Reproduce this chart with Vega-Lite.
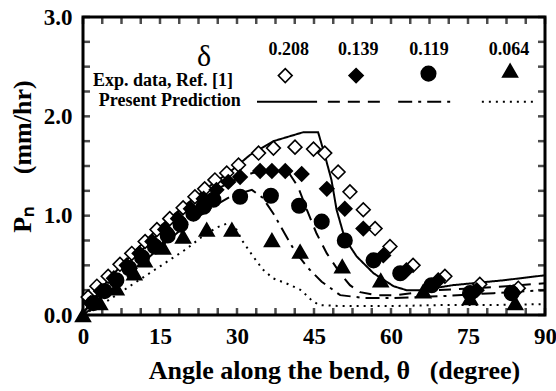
{
  "$schema": "https://vega.github.io/schema/vega-lite/v6.json",
  "width": 462,
  "height": 298,
  "autosize": "none",
  "padding": {"left": 83, "top": 17, "right": 11, "bottom": 76},
  "config": {
    "view": {"stroke": "black", "strokeWidth": 3},
    "font": "Liberation Serif",
    "axis": {
      "labelFont": "Liberation Serif", "labelFontWeight": "bold", "labelFontSize": 23, "labelColor": "black",
      "titleFont": "Liberation Serif", "titleFontWeight": "bold", "titleFontSize": 26, "titleColor": "black",
      "domain": false, "grid": false, "ticks": false
    }
  },
  "datasets": {
    "tickX": [
      {"v": 0}, {"v": 3.75}, {"v": 7.5}, {"v": 11.25}, {"v": 15}, {"v": 18.75}, {"v": 22.5}, {"v": 26.25},
      {"v": 30}, {"v": 33.75}, {"v": 37.5}, {"v": 41.25}, {"v": 45}, {"v": 48.75}, {"v": 52.5}, {"v": 56.25},
      {"v": 60}, {"v": 63.75}, {"v": 67.5}, {"v": 71.25}, {"v": 75}, {"v": 78.75}, {"v": 82.5}, {"v": 86.25}, {"v": 90}
    ],
    "tickY": [
      {"v": 0}, {"v": 0.25}, {"v": 0.5}, {"v": 0.75}, {"v": 1}, {"v": 1.25}, {"v": 1.5}, {"v": 1.75},
      {"v": 2}, {"v": 2.25}, {"v": 2.5}, {"v": 2.75}, {"v": 3}
    ],
    "pts": [
      {"s": "0.208", "x": 1.0, "y": 0.18}, {"s": "0.208", "x": 2.7, "y": 0.29}, {"s": "0.208", "x": 4.9, "y": 0.39},
      {"s": "0.208", "x": 7.2, "y": 0.51}, {"s": "0.208", "x": 9.5, "y": 0.62}, {"s": "0.208", "x": 12.1, "y": 0.74},
      {"s": "0.208", "x": 14.4, "y": 0.86}, {"s": "0.208", "x": 16.9, "y": 0.97}, {"s": "0.208", "x": 19.5, "y": 1.08},
      {"s": "0.208", "x": 21.8, "y": 1.19}, {"s": "0.208", "x": 23.7, "y": 1.27}, {"s": "0.208", "x": 25.7, "y": 1.36},
      {"s": "0.208", "x": 28.0, "y": 1.43}, {"s": "0.208", "x": 30.3, "y": 1.51}, {"s": "0.208", "x": 34.2, "y": 1.63},
      {"s": "0.208", "x": 37.1, "y": 1.68}, {"s": "0.208", "x": 41.3, "y": 1.69}, {"s": "0.208", "x": 44.9, "y": 1.67},
      {"s": "0.208", "x": 47.1, "y": 1.63}, {"s": "0.208", "x": 49.7, "y": 1.44}, {"s": "0.208", "x": 52.0, "y": 1.24},
      {"s": "0.208", "x": 54.6, "y": 1.06}, {"s": "0.208", "x": 56.9, "y": 0.87}, {"s": "0.208", "x": 59.8, "y": 0.69},
      {"s": "0.208", "x": 64.3, "y": 0.50}, {"s": "0.208", "x": 70.5, "y": 0.39}, {"s": "0.208", "x": 77.3, "y": 0.31},
      {"s": "0.208", "x": 84.8, "y": 0.27},
      {"s": "0.139", "x": 1.5, "y": 0.12}, {"s": "0.139", "x": 3.5, "y": 0.24}, {"s": "0.139", "x": 6.0, "y": 0.37},
      {"s": "0.139", "x": 8.5, "y": 0.50}, {"s": "0.139", "x": 11.0, "y": 0.62}, {"s": "0.139", "x": 13.5, "y": 0.74},
      {"s": "0.139", "x": 16.0, "y": 0.86}, {"s": "0.139", "x": 18.5, "y": 0.97}, {"s": "0.139", "x": 21.0, "y": 1.07},
      {"s": "0.139", "x": 23.5, "y": 1.17}, {"s": "0.139", "x": 26.0, "y": 1.26}, {"s": "0.139", "x": 28.3, "y": 1.34},
      {"s": "0.139", "x": 30.6, "y": 1.39}, {"s": "0.139", "x": 34.5, "y": 1.45}, {"s": "0.139", "x": 36.8, "y": 1.45},
      {"s": "0.139", "x": 39.4, "y": 1.45}, {"s": "0.139", "x": 42.6, "y": 1.42}, {"s": "0.139", "x": 47.5, "y": 1.27},
      {"s": "0.139", "x": 51.0, "y": 1.07}, {"s": "0.139", "x": 54.6, "y": 0.87}, {"s": "0.139", "x": 58.5, "y": 0.60},
      {"s": "0.139", "x": 63.0, "y": 0.45}, {"s": "0.139", "x": 69.2, "y": 0.35}, {"s": "0.139", "x": 76.7, "y": 0.25},
      {"s": "0.139", "x": 83.8, "y": 0.23},
      {"s": "0.119", "x": 2.0, "y": 0.12}, {"s": "0.119", "x": 4.2, "y": 0.24}, {"s": "0.119", "x": 6.5, "y": 0.35},
      {"s": "0.119", "x": 9.0, "y": 0.47}, {"s": "0.119", "x": 11.5, "y": 0.58}, {"s": "0.119", "x": 14.0, "y": 0.69},
      {"s": "0.119", "x": 16.5, "y": 0.80}, {"s": "0.119", "x": 19.0, "y": 0.91}, {"s": "0.119", "x": 21.5, "y": 1.02},
      {"s": "0.119", "x": 23.5, "y": 1.09}, {"s": "0.119", "x": 25.4, "y": 1.16}, {"s": "0.119", "x": 30.6, "y": 1.19},
      {"s": "0.119", "x": 36.6, "y": 1.20}, {"s": "0.119", "x": 42.1, "y": 1.10}, {"s": "0.119", "x": 46.5, "y": 0.94},
      {"s": "0.119", "x": 51.0, "y": 0.75}, {"s": "0.119", "x": 56.6, "y": 0.55}, {"s": "0.119", "x": 61.8, "y": 0.42},
      {"s": "0.119", "x": 67.9, "y": 0.30}, {"s": "0.119", "x": 75.4, "y": 0.22}, {"s": "0.119", "x": 83.5, "y": 0.22},
      {"s": "0.064", "x": 0.0, "y": 0.0}, {"s": "0.064", "x": 3.3, "y": 0.12}, {"s": "0.064", "x": 6.5, "y": 0.27},
      {"s": "0.064", "x": 10.0, "y": 0.42}, {"s": "0.064", "x": 12.0, "y": 0.55}, {"s": "0.064", "x": 15.6, "y": 0.68},
      {"s": "0.064", "x": 19.5, "y": 0.79}, {"s": "0.064", "x": 24.1, "y": 0.86}, {"s": "0.064", "x": 29.0, "y": 0.86},
      {"s": "0.064", "x": 36.8, "y": 0.755}, {"s": "0.064", "x": 42.3, "y": 0.64}, {"s": "0.064", "x": 50.5, "y": 0.49},
      {"s": "0.064", "x": 58.0, "y": 0.35}, {"s": "0.064", "x": 66.3, "y": 0.24}, {"s": "0.064", "x": 75.4, "y": 0.17},
      {"s": "0.064", "x": 84.2, "y": 0.12}
    ],
    "lines": [
      {"s": "0.208", "x": 0, "y": 0.02}, {"s": "0.208", "x": 5, "y": 0.36}, {"s": "0.208", "x": 10, "y": 0.64},
      {"s": "0.208", "x": 15, "y": 0.89}, {"s": "0.208", "x": 20, "y": 1.11}, {"s": "0.208", "x": 25, "y": 1.31},
      {"s": "0.208", "x": 28.6, "y": 1.44}, {"s": "0.208", "x": 32.5, "y": 1.61}, {"s": "0.208", "x": 37.1, "y": 1.75},
      {"s": "0.208", "x": 42.9, "y": 1.84}, {"s": "0.208", "x": 45.8, "y": 1.84}, {"s": "0.208", "x": 47.1, "y": 1.61},
      {"s": "0.208", "x": 48.4, "y": 1.36}, {"s": "0.208", "x": 49.4, "y": 1.06}, {"s": "0.208", "x": 51, "y": 0.77},
      {"s": "0.208", "x": 53.3, "y": 0.59}, {"s": "0.208", "x": 56.6, "y": 0.42}, {"s": "0.208", "x": 60.5, "y": 0.29},
      {"s": "0.208", "x": 63, "y": 0.25}, {"s": "0.208", "x": 66, "y": 0.25}, {"s": "0.208", "x": 72, "y": 0.30},
      {"s": "0.208", "x": 82, "y": 0.35}, {"s": "0.208", "x": 90, "y": 0.40},
      {"s": "0.139", "x": 0, "y": 0.02}, {"s": "0.139", "x": 5, "y": 0.31}, {"s": "0.139", "x": 10, "y": 0.58},
      {"s": "0.139", "x": 15, "y": 0.83}, {"s": "0.139", "x": 20, "y": 1.05}, {"s": "0.139", "x": 25, "y": 1.24},
      {"s": "0.139", "x": 30, "y": 1.37}, {"s": "0.139", "x": 33, "y": 1.43}, {"s": "0.139", "x": 37, "y": 1.46},
      {"s": "0.139", "x": 40, "y": 1.44}, {"s": "0.139", "x": 41.9, "y": 1.29}, {"s": "0.139", "x": 43.6, "y": 1.06},
      {"s": "0.139", "x": 45.5, "y": 0.82}, {"s": "0.139", "x": 47.5, "y": 0.62}, {"s": "0.139", "x": 50.1, "y": 0.42},
      {"s": "0.139", "x": 52, "y": 0.30}, {"s": "0.139", "x": 54, "y": 0.23}, {"s": "0.139", "x": 57, "y": 0.20},
      {"s": "0.139", "x": 61, "y": 0.20}, {"s": "0.139", "x": 69, "y": 0.25}, {"s": "0.139", "x": 80, "y": 0.28},
      {"s": "0.139", "x": 90, "y": 0.32},
      {"s": "0.119", "x": 0, "y": 0.0}, {"s": "0.119", "x": 5, "y": 0.20}, {"s": "0.119", "x": 10, "y": 0.45},
      {"s": "0.119", "x": 15, "y": 0.68}, {"s": "0.119", "x": 20, "y": 0.90}, {"s": "0.119", "x": 25, "y": 1.08},
      {"s": "0.119", "x": 29, "y": 1.20}, {"s": "0.119", "x": 32.9, "y": 1.26}, {"s": "0.119", "x": 35, "y": 1.18},
      {"s": "0.119", "x": 37.1, "y": 1.02}, {"s": "0.119", "x": 39.4, "y": 0.81}, {"s": "0.119", "x": 41.3, "y": 0.64},
      {"s": "0.119", "x": 43.9, "y": 0.47}, {"s": "0.119", "x": 46.5, "y": 0.335}, {"s": "0.119", "x": 50.1, "y": 0.20},
      {"s": "0.119", "x": 55, "y": 0.17}, {"s": "0.119", "x": 60, "y": 0.17}, {"s": "0.119", "x": 70, "y": 0.19},
      {"s": "0.119", "x": 80, "y": 0.22}, {"s": "0.119", "x": 90, "y": 0.25},
      {"s": "0.064", "x": 0, "y": 0.0}, {"s": "0.064", "x": 5, "y": 0.15}, {"s": "0.064", "x": 10, "y": 0.32},
      {"s": "0.064", "x": 15, "y": 0.49}, {"s": "0.064", "x": 20, "y": 0.66}, {"s": "0.064", "x": 23, "y": 0.78},
      {"s": "0.064", "x": 26, "y": 0.88}, {"s": "0.064", "x": 28, "y": 0.92}, {"s": "0.064", "x": 29.5, "y": 0.90},
      {"s": "0.064", "x": 31, "y": 0.75}, {"s": "0.064", "x": 33, "y": 0.60}, {"s": "0.064", "x": 35, "y": 0.46},
      {"s": "0.064", "x": 37, "y": 0.37}, {"s": "0.064", "x": 40, "y": 0.31}, {"s": "0.064", "x": 42.5, "y": 0.25},
      {"s": "0.064", "x": 44.5, "y": 0.15}, {"s": "0.064", "x": 46, "y": 0.10}, {"s": "0.064", "x": 50, "y": 0.09},
      {"s": "0.064", "x": 60, "y": 0.09}, {"s": "0.064", "x": 70, "y": 0.10}, {"s": "0.064", "x": 80, "y": 0.10},
      {"s": "0.064", "x": 90, "y": 0.11}
    ],
    "legPts": [
      {"s": "0.208", "x": 39.4, "y": 2.41}, {"s": "0.139", "x": 53.2, "y": 2.41},
      {"s": "0.119", "x": 67.3, "y": 2.43}, {"s": "0.064", "x": 83.2, "y": 2.46}
    ],
    "legLines": [
      {"s": "0.208", "x": 33.9, "y": 2.148}, {"s": "0.208", "x": 45.6, "y": 2.148},
      {"s": "0.139", "x": 47.7, "y": 2.148}, {"s": "0.139", "x": 58.8, "y": 2.148},
      {"s": "0.119", "x": 61.4, "y": 2.148}, {"s": "0.119", "x": 72.1, "y": 2.148},
      {"s": "0.064", "x": 77.7, "y": 2.148}, {"s": "0.064", "x": 88.4, "y": 2.148}
    ],
    "texts": [
      {"x": 40.1, "y": 2.67, "t": "0.208"}, {"x": 53.6, "y": 2.67, "t": "0.139"},
      {"x": 67.4, "y": 2.67, "t": "0.119"}, {"x": 83.0, "y": 2.67, "t": "0.064"},
      {"x": 15.6, "y": 2.36, "t": "Exp. data, Ref. [1]"}, {"x": 16.9, "y": 2.155, "t": "Present Prediction"}
    ],
    "delta": [{"x": 23.6, "y": 2.6, "t": "δ"}]
  },
  "layer": [
    {
      "data": {"name": "lines"},
      "mark": {"type": "line", "color": "black", "strokeWidth": 2},
      "encoding": {
        "x": {"field": "x", "type": "quantitative", "scale": {"domain": [0, 90], "nice": false},
          "axis": {"orient": "bottom", "title": "Angle along the bend, θ\u2002 (degree)",
            "titleX": 251, "titleY": 55, "titleBaseline": "middle",
            "values": [0, 15, 30, 45, 60, 75, 90], "format": "d",
            "labelPadding": 10, "labelFlush": false}},
        "y": {"field": "y", "type": "quantitative", "scale": {"domain": [0, 3], "nice": false},
          "axis": {"orient": "left", "title": "Pₙ\u2003 (mm/hr)",
            "titleX": -61, "titleY": 139, "titleBaseline": "middle", "titleAngle": -90, "titleAlign": "center",
            "values": [0, 1, 2, 3], "format": ".1f",
            "labelPadding": 11}},
        "detail": {"field": "s"},
        "strokeDash": {"field": "s", "type": "nominal", "legend": null,
          "scale": {"domain": ["0.208", "0.139", "0.119", "0.064"], "range": [[1, 0], [12, 8], [14, 6, 3, 6], [2, 5]]}}
      }
    },
    {
      "data": {"name": "pts"},
      "mark": {"type": "point", "stroke": "black", "strokeWidth": 1.6, "opacity": 1},
      "encoding": {
        "x": {"field": "x", "type": "quantitative"},
        "y": {"field": "y", "type": "quantitative"},
        "shape": {"field": "s", "type": "nominal", "legend": null,
          "scale": {"domain": ["0.208", "0.139", "0.119", "0.064"], "range": ["diamond", "diamond", "circle", "triangle-up"]}},
        "fill": {"field": "s", "type": "nominal", "legend": null,
          "scale": {"domain": ["0.208", "0.139", "0.119", "0.064"], "range": ["white", "black", "black", "black"]}},
        "size": {"field": "s", "type": "nominal", "legend": null,
          "scale": {"domain": ["0.208", "0.139", "0.119", "0.064"], "range": [190, 220, 170, 190]}}
      }
    },
    {
      "data": {"name": "legLines"},
      "mark": {"type": "line", "color": "black", "strokeWidth": 2},
      "encoding": {
        "x": {"field": "x", "type": "quantitative"},
        "y": {"field": "y", "type": "quantitative"},
        "detail": {"field": "s"},
        "strokeDash": {"field": "s", "type": "nominal", "legend": null,
          "scale": {"domain": ["0.208", "0.139", "0.119", "0.064"], "range": [[1, 0], [12, 8], [14, 6, 3, 6], [2, 5]]}}
      }
    },
    {
      "data": {"name": "legPts"},
      "mark": {"type": "point", "stroke": "black", "strokeWidth": 1.6, "opacity": 1},
      "encoding": {
        "x": {"field": "x", "type": "quantitative"},
        "y": {"field": "y", "type": "quantitative"},
        "shape": {"field": "s", "type": "nominal", "legend": null,
          "scale": {"domain": ["0.208", "0.139", "0.119", "0.064"], "range": ["diamond", "diamond", "circle", "triangle-up"]}},
        "fill": {"field": "s", "type": "nominal", "legend": null,
          "scale": {"domain": ["0.208", "0.139", "0.119", "0.064"], "range": ["white", "black", "black", "black"]}},
        "size": {"field": "s", "type": "nominal", "legend": null,
          "scale": {"domain": ["0.208", "0.139", "0.119", "0.064"], "range": [190, 220, 170, 190]}}
      }
    },
    {
      "data": {"name": "texts"},
      "mark": {"type": "text", "font": "Liberation Serif", "fontWeight": "bold", "fontSize": 18, "color": "black", "align": "center", "baseline": "middle"},
      "encoding": {
        "x": {"field": "x", "type": "quantitative"},
        "y": {"field": "y", "type": "quantitative"},
        "text": {"field": "t"}
      }
    },
    {
      "data": {"name": "delta"},
      "mark": {"type": "text", "font": "Liberation Serif", "fontSize": 30, "color": "black", "align": "center", "baseline": "middle"},
      "encoding": {
        "x": {"field": "x", "type": "quantitative"},
        "y": {"field": "y", "type": "quantitative"},
        "text": {"field": "t"}
      }
    },
    {
      "data": {"name": "tickX"},
      "mark": {"type": "tick", "orient": "vertical", "color": "black", "thickness": 2.5, "size": 7},
      "encoding": {
        "x": {"field": "v", "type": "quantitative"},
        "y": {"datum": 0.035, "type": "quantitative"}
      }
    },
    {
      "data": {"name": "tickX"},
      "mark": {"type": "tick", "orient": "vertical", "color": "black", "thickness": 2.5, "size": 7},
      "encoding": {
        "x": {"field": "v", "type": "quantitative"},
        "y": {"datum": 2.965, "type": "quantitative"}
      }
    },
    {
      "data": {"name": "tickY"},
      "mark": {"type": "tick", "orient": "horizontal", "color": "black", "thickness": 2.5, "size": 7},
      "encoding": {
        "y": {"field": "v", "type": "quantitative"},
        "x": {"datum": 0.68, "type": "quantitative"}
      }
    },
    {
      "data": {"name": "tickY"},
      "mark": {"type": "tick", "orient": "horizontal", "color": "black", "thickness": 2.5, "size": 7},
      "encoding": {
        "y": {"field": "v", "type": "quantitative"},
        "x": {"datum": 89.32, "type": "quantitative"}
      }
    }
  ]
}
